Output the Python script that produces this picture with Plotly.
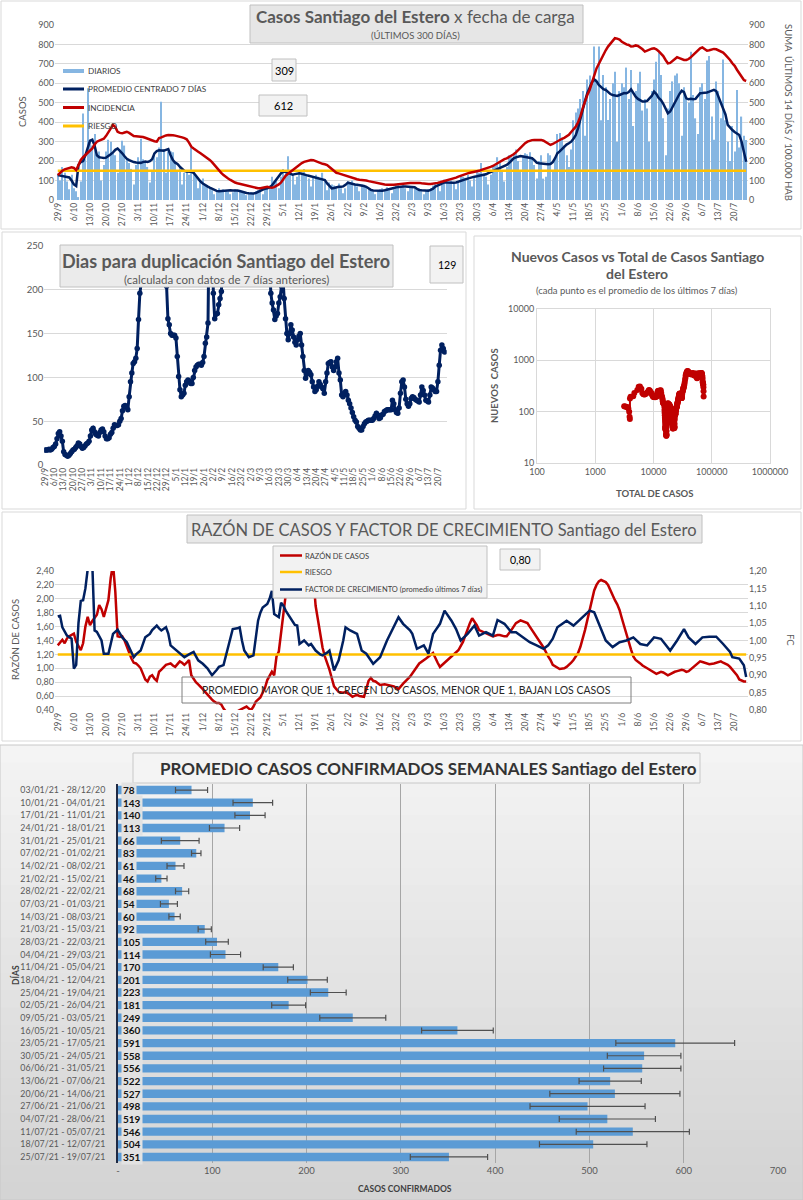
import plotly.graph_objects as go
import pandas as pd
import numpy as np

# ---------------- DATA ----------------
inicio = "2020-09-29"
n_dias = 300
fechas = pd.date_range(inicio, periods=n_dias, freq="D")

diarios = [
    135,100,170,140,95,55,130,
    60,45,15,95,445,210,575,
    300,280,340,230,250,100,180,
    250,310,300,240,230,140,260,
    305,280,210,190,160,80,180,
    220,315,210,200,170,90,150,
    240,220,270,505,260,140,250,
    250,245,190,150,170,80,140,
    150,130,270,140,120,60,90,
    110,80,70,60,50,30,45,
    60,50,55,50,45,30,40,
    55,50,45,40,38,25,35,
    40,35,45,50,60,30,55,
    70,75,120,95,100,60,120,
    160,140,225,150,130,80,120,
    150,140,160,130,110,70,120,
    130,120,110,140,95,50,90,
    80,75,70,85,60,35,60,
    95,90,100,85,70,45,80,
    75,70,60,55,45,30,50,
    55,60,50,65,50,35,55,
    80,85,70,75,60,45,65,
    70,60,55,60,45,30,50,
    55,60,75,85,70,45,80,
    105,100,95,100,85,55,90,
    125,120,115,130,100,70,115,
    145,140,190,135,120,80,130,
    180,175,220,190,150,95,170,
    230,220,240,260,200,150,230,
    240,235,245,220,180,110,200,
    230,110,120,240,230,150,210,
    340,345,320,280,230,170,260,
    410,450,470,520,560,330,620,
    640,600,790,620,790,410,643,
    580,412,520,600,660,300,560,
    600,580,681,520,669,380,560,
    600,660,460,520,470,300,560,
    620,711,763,643,420,230,470,
    560,610,640,650,600,330,580,
    520,500,763,540,420,340,580,
    600,520,717,740,430,310,610,
    560,420,723,410,300,200,380,
    250,566,270,429,330,309,
]

promedio = [
    128,126,124,122,120,116,100,
    80,72,180,195,200,230,265,
    305,310,280,230,220,218,216,
    218,225,235,245,258,265,255,
    240,225,212,205,198,195,193,
    192,191,195,198,196,200,210,
    240,252,256,255,254,258,262,
    230,205,192,185,172,160,150,
    146,146,145,140,125,108,95,
    85,76,70,64,58,52,47,
    45,46,48,50,51,50,49,
    50,49,46,42,38,36,35,
    34,34,36,42,50,55,58,
    60,65,75,90,110,125,138,
    146,145,140,135,130,133,137,
    138,135,130,128,125,122,120,
    118,115,110,105,103,85,70,
    60,62,66,68,68,70,78,
    89,86,82,80,78,77,75,
    72,68,60,52,49,48,47,
    47,48,50,54,57,60,62,
    65,68,69,70,70,69,69,
    69,66,58,51,50,49,48,
    48,52,58,69,75,82,88,
    91,90,89,89,89,90,95,
    100,104,106,110,114,118,120,
    122,124,125,128,132,138,143,
    146,152,158,165,170,175,180,
    190,200,214,219,222,226,224,
    222,220,219,215,205,192,189,
    187,185,184,184,185,195,215,
    240,250,262,272,285,292,300,
    315,334,370,420,460,510,549,
    580,605,621,610,592,580,570,
    566,555,545,540,537,535,540,
    545,550,549,555,569,550,531,
    520,512,506,506,510,523,535,
    557,545,525,514,495,470,446,
    455,478,500,525,545,562,555,
    523,518,520,518,520,535,549,
    550,551,553,557,560,566,560,
    530,506,480,440,386,370,360,
    350,340,334,300,250,197,
]

incidencia = [
    128,140,150,158,162,165,168,
    165,154,180,206,220,231,240,
    249,265,285,300,305,309,315,
    330,350,370,386,375,351,345,
    343,347,351,345,335,329,328,
    327,326,324,320,315,309,305,
    302,300,318,322,328,332,334,
    335,333,331,329,326,322,318,
    312,295,274,265,255,248,240,
    232,224,215,206,195,180,165,
    154,140,128,118,111,103,95,
    90,86,83,78,75,74,72,
    70,66,62,60,60,62,66,
    68,65,63,66,72,80,90,
    110,125,135,145,155,165,175,
    182,190,196,200,203,206,205,
    200,196,189,186,184,180,170,
    160,150,140,137,133,128,124,
    120,117,114,110,107,104,103,
    103,100,97,94,91,88,86,
    84,82,80,78,77,77,78,
    80,82,84,85,86,86,87,
    88,89,89,88,86,84,83,
    82,82,83,85,88,91,94,
    98,101,104,107,111,115,120,
    125,130,134,137,140,142,144,
    146,150,155,158,162,166,170,
    175,182,190,198,204,210,214,
    220,228,235,245,258,270,283,
    292,300,306,308,309,309,309,
    309,305,298,290,283,288,295,
    305,309,315,320,326,335,350,
    365,377,400,430,471,510,540,
    566,610,640,677,700,729,750,
    770,789,805,820,832,830,825,
    814,806,800,797,789,790,795,
    792,785,775,763,768,775,778,
    780,775,765,754,740,720,703,
    705,715,725,734,730,725,720,
    720,725,735,746,760,772,780,
    785,775,768,770,775,777,775,
    770,765,758,746,735,720,703,
    690,670,650,630,617,612,
]
riesgo_casos = 150
ultimo_diario = 309
ultima_incidencia = 612

duplicacion = [
    17,17,17,18,17,18,20,
    21,24,30,36,38,33,27,
    15,12,11,10,11,13,15,
    17,18,20,22,25,24,21,
    19,20,22,24,25,27,33,
    40,42,38,35,34,33,37,
    40,41,38,33,30,30,31,
    35,37,42,46,45,45,46,
    50,53,62,67,68,66,63,
    78,95,105,116,118,122,133,
    166,196,207,260,320,400,480,
    550,600,650,700,750,800,820,
    800,760,700,600,500,400,260,
    204,167,160,150,148,148,148,
    145,124,101,86,78,80,82,
    91,95,97,96,93,93,100,
    108,112,114,115,115,114,117,
    124,139,146,162,300,350,280,
    196,167,172,173,183,190,198,
    230,300,400,500,600,700,800,
    900,1000,1000,950,900,800,700,
    600,550,500,450,400,380,360,
    340,320,300,290,280,270,265,
    260,255,260,270,280,275,260,
    230,196,185,177,166,170,173,
    185,192,204,215,190,167,150,
    143,150,160,154,146,140,137,
    143,147,150,137,124,108,99,
    104,108,106,103,95,89,84,
    86,90,95,92,89,87,82,
    95,105,116,117,118,112,108,
    112,118,122,105,97,80,78,
    82,84,80,74,70,65,60,
    55,51,49,44,42,40,40,
    44,47,49,50,51,51,51,
    51,53,56,59,57,53,54,
    57,58,61,62,63,63,63,
    63,74,70,63,60,59,65,
    82,95,97,89,75,70,67,
    70,76,78,77,75,74,73,
    72,80,89,85,80,74,73,
    72,80,89,88,86,84,84,
    95,114,131,137,133,129,
]
ultima_duplicacion = 129

total_inicial = 3000

razon_dia = [0,2,3,4,5,7,8,10,11,12,13,14,15,16,17,18,19,20,21,22,23,24,25,26,27,28,29,30,31,32,33,34,35,36,37,38,39,40,41,42,43,44,45,46,47,48,49,50,51,52,53,54,55,56,57,58,59,60,61,62,63,64,65,66,67,68,69,70,71,72,73,75,77,79,80,82,83,84,85,86,88,89,90,91,92,93,94,95,96,97,98,99,100,101,103,106,109,111,112,113,114,115,116,117,118,119,120,121,122,124,125,127,128,130,131,133,134,135,136,137,138,140,142,143,145,146,148,150,153,155,157,160,163,165,166,168,170,172,174,176,177,179,180,182,183,185,186,188,189,191,192,194,195,197,199,201,202,204,205,207,208,210,211,213,214,215,217,218,220,221,223,224,226,227,229,230,231,232,233,234,235,236,237,238,239,240,241,242,243,244,245,246,247,248,249,250,251,253,254,256,257,259,260,262,263,265,266,268,269,271,272,273,274,276,277,279,280,282,283,285,286,288,289,291,292,293,294,295,296,297,298,299]
razon_val = [1.33,1.41,1.36,1.43,1.46,1.50,1.38,1.26,1.36,1.60,1.74,1.62,1.68,1.72,1.77,1.91,1.85,1.74,1.85,1.98,2.30,2.50,2.10,1.46,1.45,1.46,1.40,1.31,1.22,1.14,1.08,1.07,1.04,1.00,0.92,0.84,0.81,0.88,0.90,0.85,0.82,0.95,0.98,1.02,1.05,1.06,1.07,1.04,1.02,1.06,1.10,1.08,1.05,1.08,1.12,0.90,0.85,0.80,0.77,0.74,0.70,0.66,0.62,0.58,0.55,0.52,0.50,0.50,0.48,0.42,0.38,0.35,0.36,0.40,0.42,0.45,0.42,0.40,0.45,0.52,0.58,0.64,0.72,0.83,0.90,0.95,0.90,1.17,1.24,1.50,1.84,2.08,2.35,2.60,2.80,2.90,2.70,2.32,1.90,1.69,1.46,1.30,1.17,1.08,0.98,0.86,0.74,0.70,0.66,0.65,0.66,0.62,0.59,0.62,0.60,0.59,0.70,0.82,0.86,0.82,0.81,0.76,0.77,0.76,0.75,0.74,0.70,0.78,0.88,0.98,1.07,1.14,1.22,1.08,1.02,1.08,1.14,1.20,1.26,1.38,1.48,1.65,1.72,1.62,1.55,1.52,1.50,1.48,1.46,1.48,1.48,1.46,1.46,1.55,1.65,1.69,1.68,1.65,1.60,1.50,1.45,1.36,1.30,1.17,1.12,1.05,1.01,0.99,1.00,1.02,1.08,1.12,1.22,1.31,1.55,1.69,1.85,2.01,2.12,2.20,2.25,2.27,2.26,2.24,2.20,2.12,2.05,1.98,1.92,1.84,1.72,1.60,1.50,1.38,1.27,1.17,1.12,1.07,1.04,1.00,0.98,0.93,0.92,0.95,0.94,0.90,0.92,0.95,0.96,0.98,0.97,0.95,0.96,1.02,1.05,1.10,1.09,1.07,1.06,1.07,1.08,1.10,1.08,1.05,1.02,0.98,0.94,0.90,0.84,0.82,0.81,0.81]
riesgo_razon = 1.2
ultima_razon = "0,80"

fc_dia = [0,1,2,4,6,7,8,9,10,11,12,13,14,15,16,17,18,19,20,22,23,24,26,28,30,31,33,34,36,38,40,41,43,44,45,47,48,49,51,53,55,57,59,61,63,65,67,69,70,72,74,75,76,78,79,80,81,83,85,87,88,89,91,92,93,94,96,97,98,99,101,103,104,105,107,109,110,112,114,115,117,118,120,122,124,125,127,130,132,134,137,140,143,146,148,150,153,154,156,159,161,163,166,168,171,173,175,178,181,183,186,189,191,194,197,199,202,205,208,211,213,215,217,221,224,227,231,233,235,238,241,244,247,250,253,256,259,262,266,269,272,274,277,280,283,286,289,292,293,296,298,299]
fc_val = [1.069,1.071,1.038,1.014,1.005,0.919,0.930,1.050,1.114,1.116,1.150,1.210,1.260,1.220,1.029,1.025,1.014,1.000,0.962,0.962,0.990,1.019,1.031,1.009,0.995,0.981,0.952,0.960,0.971,1.009,1.019,1.030,1.043,1.035,1.029,1.038,1.020,0.986,0.975,0.962,0.952,0.960,0.967,0.943,0.933,0.920,0.900,0.915,0.924,0.929,0.980,1.000,1.033,1.035,1.038,1.000,0.971,0.952,0.957,1.057,1.080,1.095,1.105,1.120,1.143,1.076,1.067,1.109,1.100,1.086,1.067,1.045,1.043,0.990,1.000,0.986,0.990,0.971,0.960,0.957,0.965,0.971,0.914,0.943,1.000,1.038,1.029,1.019,0.971,0.962,0.933,0.952,1.000,1.038,1.067,1.048,1.029,1.019,0.976,0.986,0.962,1.019,1.048,1.086,1.057,1.033,1.000,1.019,1.043,1.014,1.024,1.014,1.059,1.048,1.024,1.024,1.009,0.995,0.986,0.976,0.986,1.005,1.038,1.057,1.043,1.062,1.086,1.081,1.048,1.000,0.981,0.995,1.000,1.009,0.990,0.986,1.009,1.005,0.971,1.000,1.033,1.009,0.990,1.009,1.011,1.011,0.990,0.967,0.952,0.948,0.929,0.895]

semanas = ["03/01/21 - 28/12/20", "10/01/21 - 04/01/21", "17/01/21 - 11/01/21", "24/01/21 - 18/01/21",
           "31/01/21 - 25/01/21", "07/02/21 - 01/02/21", "14/02/21 - 08/02/21", "21/02/21 - 15/02/21",
           "28/02/21 - 22/02/21", "07/03/21 - 01/03/21", "14/03/21 - 08/03/21", "21/03/21 - 15/03/21",
           "28/03/21 - 22/03/21", "04/04/21 - 29/03/21", "11/04/21 - 05/04/21", "18/04/21 - 12/04/21",
           "25/04/21 - 19/04/21", "02/05/21 - 26/04/21", "09/05/21 - 03/05/21", "16/05/21 - 10/05/21",
           "23/05/21 - 17/05/21", "30/05/21 - 24/05/21", "06/06/21 - 31/05/21", "13/06/21 - 07/06/21",
           "20/06/21 - 14/06/21", "27/06/21 - 21/06/21", "04/07/21 - 28/06/21", "11/07/21 - 05/07/21",
           "18/07/21 - 12/07/21", "25/07/21 - 19/07/21"]
prom_semanal = [78,143,140,113,66,83,61,46,68,54,60,92,105,114,170,201,223,181,249,360,591,558,556,522,527,498,519,546,504,351]
error_semanal = [17,21,16,16,20,5,9,6,7,9,6,7,12,16,16,21,19,18,35,38,63,39,41,33,69,61,51,60,57,41]
ticks_semanal = [0,100,200,300,400,500,600,700]
ticks_semanal_txt = ["-","100","200","300","400","500","600","700"]

log_x_vals = [100,1000,10000,100000,1000000]
log_x_txt = ["100","1000","10000","100000","1000000"]
log_y_vals = [10,100,1000,10000]
log_y_txt = ["10","100","1000","10000"]

# ---------------- HELPERS ----------------
W, H = 803, 1200
FONT = "Lato, 'Open Sans', sans-serif"
GRAY = "#595959"
NAVY = "#002060"
RED = "#c00000"
GOLD = "#ffc000"
DAY_MS = 86400000

def px(x): return x / W
def py(y): return 1 - y / H
def dte(k): return (pd.Timestamp(inicio) + pd.Timedelta(hours=24 * k)).strftime("%Y-%m-%d %H:%M")

shapes, annots = [], []

def rect(x0, y0, x1, y1, fill="rgba(0,0,0,0)", line="#d9d9d9", lw=1, layer="below"):
    shapes.append(dict(type="rect", xref="paper", yref="paper", x0=px(x0), x1=px(x1), y0=py(y1), y1=py(y0),
                       fillcolor=fill, line=dict(color=line, width=lw), layer=layer))

def hline(x0, x1, y, color, lw):
    shapes.append(dict(type="line", xref="paper", yref="paper", x0=px(x0), x1=px(x1), y0=py(y), y1=py(y),
                       line=dict(color=color, width=lw), layer="above"))

def text(x, y, t, size, color=GRAY, xanchor="center", angle=0, family=FONT):
    annots.append(dict(xref="paper", yref="paper", x=px(x), y=py(y), text=t, showarrow=False,
                       xanchor=xanchor, yanchor="middle", textangle=angle,
                       font=dict(size=size, color=color, family=family)))

# ---------------- TRACES ----------------
fig = go.Figure()

# Panel 1
fig.add_trace(go.Bar(x=fechas, y=diarios, width=0.5 * DAY_MS, marker=dict(color="#86b6e2", line=dict(width=0)),
                     xaxis="x", yaxis="y", name="DIARIOS"))
fig.add_trace(go.Scatter(x=fechas, y=promedio, mode="lines", line=dict(color=NAVY, width=2.5),
                         xaxis="x", yaxis="y", name="PROMEDIO CENTRADO 7 DÍAS"))
fig.add_trace(go.Scatter(x=fechas, y=incidencia, mode="lines", line=dict(color=RED, width=2.5),
                         xaxis="x", yaxis="y2", name="INCIDENCIA"))
fig.add_trace(go.Scatter(x=[fechas[0], fechas[-1]], y=[riesgo_casos, riesgo_casos], mode="lines",
                         line=dict(color=GOLD, width=2.5), xaxis="x", yaxis="y", name="RIESGO"))

# Panel 2
fig.add_trace(go.Scatter(x=fechas, y=duplicacion, mode="lines+markers", line=dict(color=NAVY, width=3),
                         marker=dict(color=NAVY, size=5.5), xaxis="x2", yaxis="y3"))

# Panel 3
total_casos = total_inicial + np.cumsum(diarios)
fig.add_trace(go.Scatter(x=total_casos, y=promedio, mode="lines+markers", line=dict(color=RED, width=2),
                         marker=dict(color=RED, size=6), xaxis="x3", yaxis="y4"))

# Panel 4
razon_x = [fechas[i] for i in razon_dia]
fc_x = [fechas[i] for i in fc_dia]
fig.add_trace(go.Scatter(x=razon_x, y=razon_val, mode="lines", line=dict(color=RED, width=2.5),
                         xaxis="x4", yaxis="y5"))
fig.add_trace(go.Scatter(x=[fechas[0], fechas[-1]], y=[riesgo_razon, riesgo_razon], mode="lines",
                         line=dict(color=GOLD, width=2.5), xaxis="x4", yaxis="y5"))
fig.add_trace(go.Scatter(x=fc_x, y=fc_val, mode="lines", line=dict(color=NAVY, width=2.5),
                         xaxis="x4", yaxis="y6"))

# Panel 5
fig.add_trace(go.Bar(x=prom_semanal, y=semanas, orientation="h", width=0.66,
                     marker=dict(color="#5b9bd5", line=dict(width=0)),
                     error_x=dict(type="data", array=error_semanal, color="#505050", thickness=1.2, width=3),
                     xaxis="x5", yaxis="y7"))

# ---------------- DECORATION ----------------
rect(1, 1, 801, 229)
rect(2, 232, 466, 509)
rect(474, 236, 801, 509)
rect(2, 512, 801, 741)
nb = 26
for i in range(nb):
    y0 = 745 + (1200 - 745) * i / nb
    y1 = 745 + (1200 - 745) * (i + 1) / nb
    c = int(244 - (244 - 212) * i / (nb - 1))
    rect(0, y0, 803, y1 + 0.5, fill=f"rgb({c},{c},{c})", line="rgba(0,0,0,0)", lw=0)
rect(0, 745, 803, 1200, line="#c8c8c8")

# Panel 1 decorations
rect(250, 5, 583, 43, fill="#e6e6e6", line="#c0c0c0", layer="above")
text(416, 17, "<b>Casos Santiago del Estero</b> x fecha de carga", 17)
text(416, 35, "(ÚLTIMOS 300 DÍAS)", 9.5)
rect(272, 59, 296, 81, fill="#f2f2f2", line="#c0c0c0", layer="above")
text(284, 70, str(ultimo_diario), 11, color="#000000")
rect(259, 95, 307, 116, fill="#f2f2f2", line="#c0c0c0", layer="above")
text(283, 105.5, str(ultima_incidencia), 11, color="#000000")
shapes.append(dict(type="rect", xref="paper", yref="paper", x0=px(63), x1=px(84), y0=py(73), y1=py(69),
                   fillcolor="#86b6e2", line=dict(width=0), layer="above"))
hline(63, 84, 89, NAVY, 3)
hline(63, 84, 107.5, RED, 3)
hline(63, 84, 126, GOLD, 3)
text(86, 71, "DIARIOS", 8.2, color="#404040", xanchor="left")
text(86, 89, "PROMEDIO CENTRADO 7 DÍAS", 8.2, color="#404040", xanchor="left")
text(86, 107.5, "INCIDENCIA", 8.2, color="#404040", xanchor="left")
text(86, 126, "RIESGO", 8.2, color="#404040", xanchor="left")
text(22, 112, "CASOS", 9.5, angle=-90)
text(789, 112, "SUMA  ÚLTIMOS 14 DÍAS / 100.000 HAB", 9.5, angle=90)

# Panel 2 decorations
rect(60, 245, 393, 287, fill="#ebebeb", line="#c0c0c0", layer="above")
text(226, 261, "<b>Dias para duplicación Santiago del Estero</b>", 18)
text(226, 279, "(calculada con datos de 7 días anteriores)", 11.5)
rect(430, 246, 463, 283, fill="#f2f2f2", line="#c0c0c0", layer="above")
text(446.5, 265, str(ultima_duplicacion), 10.5, color="#000000")

# Panel 3 decorations
text(637, 256, "<b>Nuevos Casos vs Total de Casos Santiago</b>", 14)
text(637, 274, "<b>del Estero</b>", 14)
text(637, 290, "(cada punto es el promedio de los últimos 7 días)", 9.5)
text(654, 493, "<b>TOTAL DE CASOS</b>", 9.5)
text(494, 386, "<b>NUEVOS  CASOS</b>", 9.5, angle=-90)

# Panel 4 decorations
rect(187, 515, 702, 543, fill="#e8e8e8", line="#c0c0c0", layer="above")
text(444, 529, "RAZÓN DE CASOS Y FACTOR DE CRECIMIENTO Santiago del Estero", 16.5)
rect(273, 546, 487, 598, fill="#f2f2f2", line="#c0c0c0", layer="above")
hline(280, 302, 555.5, RED, 2.5)
hline(280, 302, 572, GOLD, 2.5)
hline(280, 302, 589.5, NAVY, 2.5)
text(303, 555.5, "RAZÓN DE CASOS", 7.5, color="#404040", xanchor="left")
text(303, 572, "RIESGO", 7.5, color="#404040", xanchor="left")
text(303, 589.5, "FACTOR DE CRECIMIENTO (promedio últimos 7 días)", 7.5, color="#404040", xanchor="left")
rect(500, 549, 540, 570, fill="#f2f2f2", line="#c0c0c0", layer="above")
text(520, 559.5, ultima_razon, 10.5, color="#000000")
rect(182, 677, 631, 703, fill="rgba(0,0,0,0)", line="#7f7f7f", layer="above")
text(406, 690, "PROMEDIO MAYOR QUE 1, CRECEN LOS CASOS, MENOR QUE 1, BAJAN LOS CASOS", 10.5, color="#262626")
text(15, 640, "RAZÓN DE CASOS", 9.5, angle=-90)
text(791, 640, "FC", 9.5, angle=90)

# Panel 5 decorations
rect(133, 753, 700, 783, fill="#f4f4f4", line="#c8c8c8", layer="above")
text(428, 768, "<b>PROMEDIO CASOS CONFIRMADOS SEMANALES Santiago del Estero</b>", 17, color="#333333")
text(405, 1189, "<b>CASOS CONFIRMADOS</b>", 8.5, color="#404040")
text(15, 975, "<b>DÍAS</b>", 8.5, color="#404040", angle=-90)
for s, v in zip(semanas, prom_semanal):
    annots.append(dict(xref="x5", yref="y7", x=0, y=s, text=f"<b>{v}</b>", showarrow=False,
                       xanchor="left", yanchor="middle", xshift=3, bgcolor="#e2e2e2", borderpad=1,
                       font=dict(size=10, color="#111111", family=FONT)))

# ---------------- LAYOUT ----------------
tick = dict(size=9, color=GRAY, family=FONT)
date_common = dict(type="date", tickformat="%-d/%-m", tick0=inicio, dtick=7 * DAY_MS, tickangle=-90,
                   showgrid=False, zeroline=False, showline=False, ticks="", automargin=False,
                   tickfont=dict(size=8.5, color=GRAY, family=FONT))

fig.update_layout(
    width=W, height=H, margin=dict(l=0, r=0, t=0, b=0, pad=0, autoexpand=False),
    paper_bgcolor="white", plot_bgcolor="rgba(0,0,0,0)",
    showlegend=False, separators=",.",
    font=dict(family=FONT, color=GRAY),
    shapes=shapes, annotations=annots,
    xaxis=dict(domain=[px(55), px(748)], anchor="y", range=[dte(-1.2), dte(299.8)], **date_common),
    yaxis=dict(domain=[py(200), py(25)], anchor="x", range=[0, 900], dtick=100, gridcolor="#d9d9d9",
               zeroline=False, tickfont=tick, automargin=False),
    yaxis2=dict(overlaying="y", side="right", anchor="x", range=[0, 900], dtick=100, showgrid=False,
                zeroline=False, tickfont=tick, automargin=False),
    xaxis2=dict(domain=[px(44.3), px(446.7)], anchor="y3", range=[dte(-0.5), dte(300.6)], **date_common),
    yaxis3=dict(domain=[py(465), py(246)], anchor="x2", range=[0, 250], dtick=50, gridcolor="#d9d9d9",
                zeroline=False, tickfont=dict(size=9.5, color=GRAY, family=FONT), automargin=False),
    xaxis3=dict(domain=[px(537), px(770)], anchor="y4", type="log", range=[2, 6], tickvals=log_x_vals,
                ticktext=log_x_txt, gridcolor="#d9d9d9", showline=True, mirror=True, linecolor="#d9d9d9",
                zeroline=False, tickfont=tick, automargin=False),
    yaxis4=dict(domain=[py(463), py(309)], anchor="x3", type="log", range=[1, 4], tickvals=log_y_vals,
                ticktext=log_y_txt, gridcolor="#d9d9d9", showline=True, mirror=True, linecolor="#d9d9d9",
                zeroline=False, tickfont=tick, automargin=False),
    xaxis4=dict(domain=[px(55), px(748)], anchor="y5", range=[dte(-1.2), dte(299.8)], **date_common),
    yaxis5=dict(domain=[py(710), py(571)], anchor="x4", range=[0.4, 2.4], dtick=0.2, tickformat=".2f",
                gridcolor="#d9d9d9", zeroline=False, tickfont=tick, automargin=False),
    yaxis6=dict(overlaying="y5", side="right", anchor="x4", range=[0.8, 1.2], dtick=0.05, tickformat=".2f",
                showgrid=False, zeroline=False, tickfont=tick, automargin=False),
    xaxis5=dict(domain=[px(118), px(778)], anchor="y7", range=[0, 700], tickvals=ticks_semanal,
                ticktext=ticks_semanal_txt, gridcolor="#a6a6a6", showgrid=True, zeroline=False,
                showline=False, tickfont=dict(size=9.5, color=GRAY, family=FONT), automargin=False),
    yaxis7=dict(domain=[py(1163.3), py(783.7)], anchor="x5", type="category", range=[29.5, -0.5],
                showgrid=False, showline=True, linecolor="#1f2a44", linewidth=2, ticks="",
                ticklabelstandoff=9, tickfont=dict(size=8.8, color=GRAY, family=FONT), automargin=False),
)

fig.write_html("out.html", config={"displayModeBar": False},
               post_script="document.body.style.margin='0';document.body.style.padding='0';"
                           "document.body.style.overflow='hidden';")
